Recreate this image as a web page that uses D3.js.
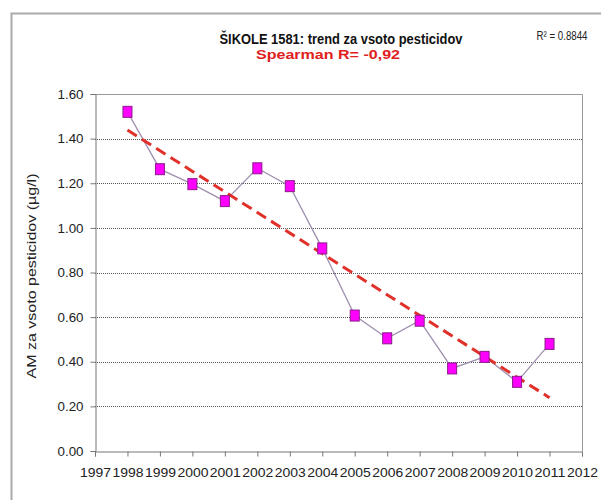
<!DOCTYPE html>
<html><head><meta charset="utf-8">
<script src="https://cdn.jsdelivr.net/npm/d3@7"></script>
<style>body{margin:0;background:#fff}svg{display:block}text{font-family:"Liberation Sans",Arial,sans-serif}</style>
</head><body>
<svg id="c" width="601" height="500"></svg>
<script>
const years = [1998,1999,2000,2001,2002,2003,2004,2005,2006,2007,2008,2009,2010,2011];
const values = [1.52,1.263,1.196,1.12,1.267,1.187,0.908,0.607,0.505,0.584,0.37,0.422,0.31,0.48];
const xTicks = [1997,1998,1999,2000,2001,2002,2003,2004,2005,2006,2007,2008,2009,2010,2011,2012];
const yTicks = [0,0.2,0.4,0.6,0.8,1.0,1.2,1.4,1.6];
const title = "ŠIKOLE 1581: trend za vsoto pesticidov";
const subtitle = "Spearman R= -0,92";
const r2Label = "R² = 0.8844";
const yLabel = "AM za vsoto pesticidov (µg/l)";

const svg = d3.select("#c");
const L=95, R=582, T=94, B=451;
const x = d3.scaleLinear().domain([1997,2012]).range([L,R]);
const y = d3.scaleLinear().domain([0,1.6]).range([B,T]);

// outer frame
svg.append("path").attr("d","M11.5,500 L11.5,13.5 L601,13.5").attr("fill","none").attr("stroke","#aaa").attr("stroke-width",2);

// gridlines
svg.append("g").selectAll("line").data(yTicks.filter(d=>d>0 && d<1.6)).join("line")
  .attr("x1",L).attr("x2",R).attr("y1",d=>Math.round(y(d))+0.5).attr("y2",d=>Math.round(y(d))+0.5)
  .attr("stroke","#555").attr("stroke-width",1.2).attr("stroke-dasharray","1,1");

// plot border top and right
svg.append("path").attr("d",`M${L},${T+0.5} L${R+0.5},${T+0.5} L${R+0.5},${B}`).attr("fill","none").attr("stroke","#999").attr("stroke-width",1);

// axes
const yAxis = d3.axisLeft(y).tickValues(yTicks).tickFormat(d3.format(".2f")).tickSize(5).tickPadding(7);
const gy = svg.append("g").attr("transform",`translate(${L+0.5},0)`).call(yAxis);
const xAxis = d3.axisBottom(x).tickValues(xTicks).tickFormat(d3.format("d")).tickSize(5).tickPadding(11);
const gx = svg.append("g").attr("transform",`translate(0,${B+0.5})`).call(xAxis);
[gy,gx].forEach(g=>{
  g.select(".domain").attr("stroke","#777");
  g.selectAll(".tick line").attr("stroke","#777");
  g.selectAll("text").attr("fill","#222").style("font-size","13px");
});
gx.selectAll("text").attr("textLength",31).attr("lengthAdjust","spacingAndGlyphs");
gy.selectAll("text").attr("textLength",26).attr("lengthAdjust","spacingAndGlyphs");

// data line
svg.append("path").datum(years.map((yr,i)=>[yr,values[i]]))
  .attr("d",d3.line().x(d=>x(d[0])).y(d=>y(d[1])))
  .attr("fill","none").attr("stroke","#a090b0").attr("stroke-width",1.3);

// trend line (least squares)
const mx=d3.mean(years), my=d3.mean(values);
const slope=d3.sum(years,(d,i)=>(d-mx)*(values[i]-my))/d3.sum(years,d=>(d-mx)*(d-mx));
const f=t=>my+slope*(t-mx);
const x0=years[0], x1=years[years.length-1];
svg.append("line").attr("x1",x(x0)).attr("y1",y(f(x0))).attr("x2",x(x1)).attr("y2",y(f(x1)))
  .attr("stroke","#e0302a").attr("stroke-width",3).attr("stroke-dasharray","11,6");

// markers
svg.append("g").selectAll("rect").data(years).join("rect")
  .attr("x",(d)=>x(d)-4.5).attr("y",(d,i)=>y(values[i])-5.5).attr("width",9).attr("height",11)
  .attr("fill","#ff00ff").attr("stroke","#8a1a8a").attr("stroke-width",1);

// titles
svg.append("text").attr("x",341).attr("y",44).attr("text-anchor","middle")
  .style("font-size","14px").style("font-weight","bold").attr("fill","#111")
  .attr("textLength",243).attr("lengthAdjust","spacingAndGlyphs").text(title);
svg.append("text").attr("x",328).attr("y",59).attr("text-anchor","middle")
  .style("font-size","13.5px").style("font-weight","bold").attr("fill","#e02020")
  .attr("textLength",144).attr("lengthAdjust","spacingAndGlyphs").text(subtitle);
svg.append("text").attr("x",562).attr("y",40).attr("text-anchor","middle")
  .style("font-size","12px").attr("fill","#222")
  .attr("textLength",51).attr("lengthAdjust","spacingAndGlyphs").text(r2Label);

// y label
svg.append("text").attr("transform","translate(36,276) rotate(-90)").attr("text-anchor","middle")
  .style("font-size","12px").attr("fill","#222")
  .attr("textLength",205).attr("lengthAdjust","spacingAndGlyphs").text(yLabel);
</script>
</body></html>
